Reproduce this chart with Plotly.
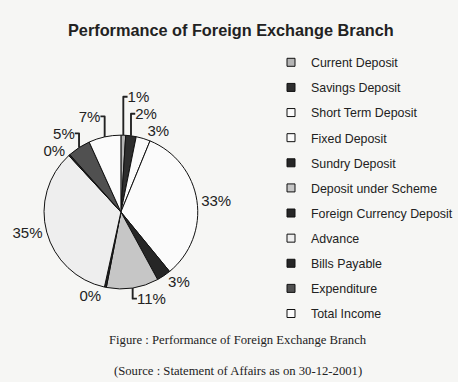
import plotly.graph_objects as go

labels = ["Current Deposit", "Savings Deposit", "Short Term Deposit", "Fixed Deposit",
          "Sundry Deposit", "Deposit under Scheme", "Foreign Currency Deposit", "Advance",
          "Bills Payable", "Expenditure", "Total Income"]
values = [1.0, 2.2, 3.0, 33.0, 3.0, 11.0, 0.4, 34.8, 0.3, 4.8, 6.8]
colors = ["#b4b4b4", "#2e2e2e", "#fbfbfb", "#fbfbfb", "#262626", "#c6c6c6",
          "#262626", "#eeeeee", "#262626", "#505050", "#fbfbfb"]

bg = "#f6f6f4"

fig = go.Figure()
fig.add_trace(go.Pie(
    labels=labels, values=values, sort=False, direction="clockwise", rotation=0,
    marker=dict(colors=colors, line=dict(color="#111111", width=1)),
    textposition="outside", texttemplate="%{percent:.0%}",
    textfont=dict(family="Liberation Sans, Arial", size=15, color="#222222"),
    showlegend=False, hoverinfo="label+percent",
    domain=dict(x=[0.0975, 0.4375], y=[0.241, 0.649]),
))

for lab, col in zip(labels, colors):
    fig.add_trace(go.Scatter(
        x=[None], y=[None], mode="markers", name=lab, legendgroup=lab,
        marker=dict(symbol="square", size=8, color=col, line=dict(color="#111111", width=1)),
    ))

fig.update_layout(
    width=458, height=382,
    margin=dict(l=0, r=0, t=0, b=0),
    paper_bgcolor=bg, plot_bgcolor=bg,
    xaxis=dict(visible=False), yaxis=dict(visible=False),
    title=dict(text="<b>Performance of Foreign Exchange Branch</b>",
               x=0.504, xanchor="center", y=0.92, yanchor="middle",
               font=dict(family="Liberation Sans, Arial", size=16.3, color="#222222")),
    legend=dict(x=0.6, y=0.875, xanchor="left", yanchor="top",
                font=dict(family="Liberation Sans, Arial", size=12.4, color="#222222"),
                tracegroupgap=6, bgcolor="rgba(0,0,0,0)"),
    annotations=[
        dict(text="Figure : Performance of Foreign Exchange Branch", x=0.526, y=0.11,
             xref="paper", yref="paper", showarrow=False, xanchor="center", yanchor="middle",
             font=dict(family="Liberation Serif, Times New Roman", size=12.7, color="#222222")),
        dict(text="(Source : Statement of Affairs as on 30-12-2001)", x=0.526, y=0.029,
             xref="paper", yref="paper", showarrow=False, xanchor="center", yanchor="middle",
             font=dict(family="Liberation Serif, Times New Roman", size=12.7, color="#222222")),
    ],
)

fig.write_html("out.html")
